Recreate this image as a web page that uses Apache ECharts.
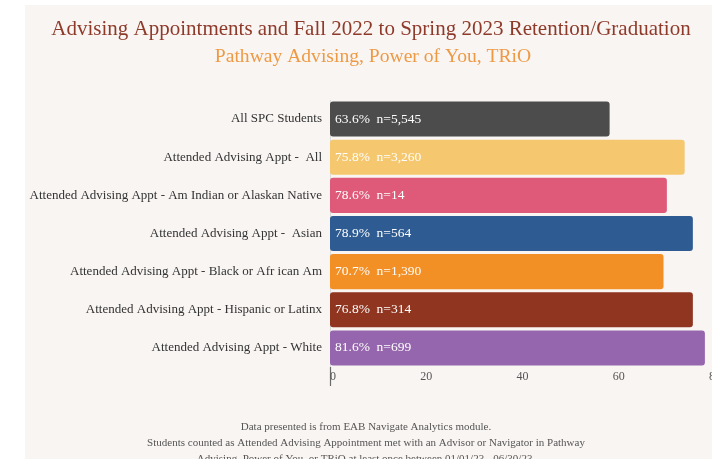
<!DOCTYPE html>
<html>
<head>
<meta charset="utf-8">
<script src="https://cdn.jsdelivr.net/npm/echarts@6/dist/echarts.min.js"></script>
<style>
html,body{margin:0;padding:0;background:#ffffff;overflow:hidden;}
#bg{position:absolute;left:25px;top:5px;width:687px;height:454px;background:#f9f5f3;}
#chart{position:absolute;left:0;top:0;width:712px;height:459px;}
</style>
</head>
<body>
<div id="bg"></div>
<div id="chart"></div>
<script>
const categories = [
  "All SPC Students",
  "Attended Advising Appt -  All",
  "Attended Advising Appt - Am Indian or Alaskan Native",
  "Attended Advising Appt -  Asian",
  "Attended Advising Appt - Black or Afr ican Am",
  "Attended Advising Appt - Hispanic or Latinx",
  "Attended Advising Appt - White"
];
const barValues = [58.1, 73.7, 70.0, 75.4, 69.3, 75.4, 77.9];
const pctLabels = ["63.6%", "75.8%", "78.6%", "78.9%", "70.7%", "76.8%", "81.6%"];
const nLabels = ["n=5,545", "n=3,260", "n=14", "n=564", "n=1,390", "n=314", "n=699"];
const barColors = ["#4c4c4c", "#f5c870", "#de5a78", "#2e5b92", "#f28f25", "#8f3520", "#9566ad"];
const xTicks = [0, 20, 40, 60, 80];
const titleText = "Advising Appointments and Fall 2022 to Spring 2023 Retention/Graduation";
const subtitleText = "Pathway Advising, Power of You, TRiO";
const footnotes = [
  "Data presented is from EAB Navigate Analytics module.",
  "Students counted as Attended Advising Appointment met with an Advisor or Navigator in Pathway",
  "Advising, Power of You, or TRiO at least once between 01/01/23 - 06/30/23."
];

const serif = '"Liberation Serif", "DejaVu Serif", serif';
const chart = echarts.init(document.getElementById('chart'), null, {renderer: 'canvas'});

const option = {
  backgroundColor: 'transparent',
  animation: false,
  title: [
    {
      text: titleText,
      left: 366, top: 14, textAlign: 'center',
      textStyle: {fontFamily: serif, fontSize: 21, fontWeight: 'normal', color: '#8e3a2a'}
    },
    {
      text: subtitleText,
      left: 368, top: 42, textAlign: 'center',
      textStyle: {fontFamily: serif, fontSize: 19.6, fontWeight: 'normal', color: '#ee9a45'}
    },
    {
      text: footnotes.join('\n'),
      left: 361, top: 414, textAlign: 'center',
      textStyle: {fontFamily: serif, fontSize: 11, fontWeight: 'normal', color: '#555555', lineHeight: 16, align: 'center'}
    }
  ],
  grid: {left: 330, top: 100, width: 385, height: 267, containLabel: false, outerBoundsMode: 'none'},
  xAxis: {
    type: 'value', min: 0, max: 80, interval: 20,
    axisLine: {show: false},
    axisTick: {show: true, customValues: [xTicks[0]], length: 19, lineStyle: {color: '#6a6a6a', width: 1.2}},
    axisLabel: {
      fontFamily: serif, fontSize: 12, color: '#555', margin: 4,
      formatter: (v) => v === xTicks[0] ? '{z|' + v + '}' : String(v),
      rich: {z: {fontFamily: serif, fontSize: 12, color: '#555', padding: [0, 0, 0, 6]}}
    },
    splitLine: {show: true, lineStyle: {color: '#dcdcdc', width: 1}}
  },
  yAxis: {
    type: 'category', data: categories, inverse: true,
    axisLine: {show: false}, axisTick: {show: false},
    axisLabel: {fontFamily: serif, fontSize: 13, color: '#333333', margin: 8}
  },
  series: [{
    type: 'bar',
    barCategoryGap: '8%',
    data: barValues.map((v, i) => ({
      value: v,
      itemStyle: {color: barColors[i], borderRadius: 3},
      label: {formatter: pctLabels[i] + '  ' + nLabels[i]}
    })),
    label: {
      show: true, position: 'insideLeft', distance: 5,
      fontFamily: serif, fontSize: 13.5, color: '#ffffff'
    }
  }]
};
chart.setOption(option);
</script>
</body>
</html>
